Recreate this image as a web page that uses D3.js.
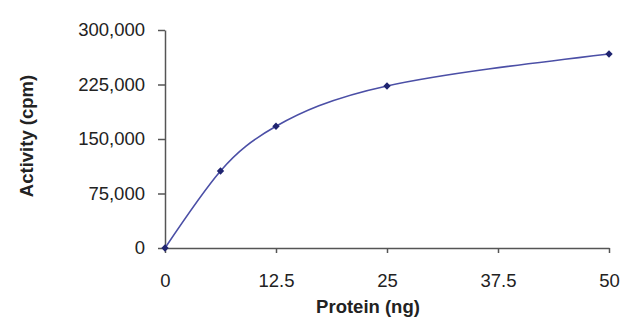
<!DOCTYPE html>
<html>
<head>
<meta charset="utf-8">
<script src="https://cdn.jsdelivr.net/npm/d3@7"></script>
<style>
  html, body { margin: 0; padding: 0; background: #fff; }
  svg { display: block; }
  text { font-family: "Liberation Sans", Arial, Helvetica, sans-serif; }
</style>
</head>
<body>
<svg id="chart" width="640" height="330"></svg>
<script>
// Protein titration: activity measured at each protein amount
const protein = [0, 6.25, 12.5, 25, 50];
const activity = [0, 106000, 167500, 223000, 267000];
const xTicks = [0, 12.5, 25, 37.5, 50];
const yTicks = [0, 75000, 150000, 225000, 300000];

const svg = d3.select("#chart");
const x = d3.scaleLinear().domain([0, 50]).range([165, 609]);
const y = d3.scaleLinear().domain([0, 300000]).range([248, 30]);

const axisColor = "#555";
const textColor = "#222";

// Y axis
const yAxis = svg.append("g")
  .attr("transform", `translate(${x(0)},0)`)
  .call(d3.axisLeft(y).tickValues(yTicks).tickSize(7).tickSizeOuter(0).tickPadding(13)
    .tickFormat(d3.format(",")));
yAxis.select(".domain").attr("stroke", axisColor).attr("stroke-width", 1.5);
yAxis.selectAll(".tick line").attr("stroke", axisColor).attr("stroke-width", 1.5);
yAxis.selectAll(".tick text").attr("fill", textColor).style("font-size", "18.5px");

// X axis
const xAxis = svg.append("g")
  .attr("transform", `translate(0,${y(0)})`)
  .call(d3.axisBottom(x).tickValues(xTicks).tickSize(5).tickSizeOuter(0).tickPadding(21)
    .tickFormat(d => String(d)));
xAxis.select(".domain").attr("stroke", axisColor).attr("stroke-width", 1.5);
xAxis.selectAll(".tick line").attr("stroke", axisColor).attr("stroke-width", 1.5);
xAxis.selectAll(".tick text").attr("fill", textColor).style("font-size", "18.5px");

// Axis titles
svg.append("text")
  .attr("x", 368).attr("y", 313)
  .attr("text-anchor", "middle")
  .attr("fill", textColor)
  .style("font-size", "18.5px").style("font-weight", "bold")
  .text("Protein (ng)");

svg.append("text")
  .attr("transform", "translate(33,136) rotate(-90)")
  .attr("text-anchor", "middle")
  .attr("fill", textColor)
  .style("font-size", "18.5px").style("font-weight", "bold")
  .text("Activity (cpm)");

// Smoothed data line
const pts = protein.map((p, i) => [p, activity[i]]);
const line = d3.line()
  .x(d => x(d[0]))
  .y(d => y(d[1]))
  .curve(d3.curveNatural);
svg.append("path")
  .datum(pts)
  .attr("fill", "none")
  .attr("stroke", "#4b4fa6")
  .attr("stroke-width", 1.6)
  .attr("d", line);

// Diamond markers
svg.append("g").selectAll("path")
  .data(pts)
  .join("path")
  .attr("transform", d => `translate(${x(d[0])},${y(d[1])}) rotate(45)`)
  .attr("d", "M-2.6,-2.6H2.6V2.6H-2.6Z")
  .attr("fill", "#1f2470");
</script>
</body>
</html>
